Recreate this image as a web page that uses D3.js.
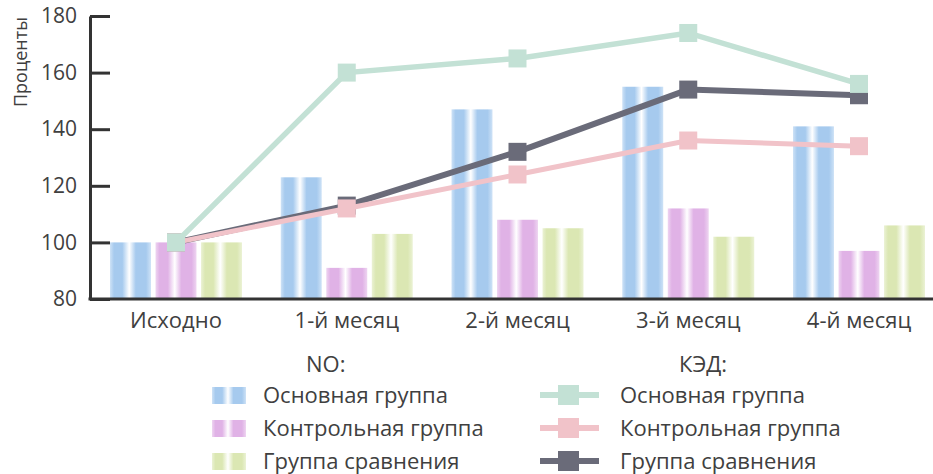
<!DOCTYPE html>
<html>
<head>
<meta charset="utf-8">
<script src="https://cdn.jsdelivr.net/npm/d3@7"></script>
<style>
  html, body { margin: 0; padding: 0; background: #fff; }
  svg { display: block; font-family: "Open Sans", "Noto Sans", sans-serif; }
</style>
</head>
<body>
<div id="chart"></div>
<script>
// === DATA ===
const categories = ["Исходно", "1-й месяц", "2-й месяц", "3-й месяц", "4-й месяц"];
const groupNames = ["Основная группа", "Контрольная группа", "Группа сравнения"];

// NO (bars)
const noMain = [100, 123, 147, 155, 141];
const noControl = [100, 91, 108, 112, 97];
const noCompare = [100, 103, 105, 102, 106];

// КЭД (lines)
const kedMain = [100, 160, 165, 174, 156];
const kedControl = [100, 112, 124, 136, 134];
const kedCompare = [100, 113, 132, 154, 152];

const yTicks = [80, 100, 120, 140, 160, 180];

// === LAYOUT ===
const W = 933, H = 474;
const axisX = 90;
const plotTop = 16, plotBottom = 299;
const textColor = "#404040";
const axisColor = "#333";
const labelSize = "22px";

const barColors = ["#a6caee", "#e0b2e6", "#dbe7b3"];
const lineColors = ["#c3e1d5", "#f1c3c9", "#6a6b79"];

const svg = d3.select("#chart").append("svg")
  .attr("width", W)
  .attr("height", H);

const defs = svg.append("defs");
barColors.forEach((c, i) => {
  const light = d3.interpolateRgb(c, "#fff")(0.45);
  const grad = defs.append("linearGradient")
    .attr("id", "bar-grad-" + i)
    .attr("x1", "0%").attr("x2", "100%")
    .attr("y1", "0%").attr("y2", "0%");
  [
    [0, light], [0.1, c], [0.3, c], [0.47, "#fff"],
    [0.63, c], [0.88, c], [1, light]
  ].forEach(([o, col]) => grad.append("stop").attr("offset", o).attr("stop-color", col));
});

// === SCALES ===
const step = 170.75;
const firstCenter = 176;
const x = d3.scaleBand()
  .domain(categories)
  .range([firstCenter - step / 2, firstCenter - step / 2 + step * categories.length])
  .paddingInner(0.227)
  .paddingOuter(0.1135);

const xInner = d3.scaleBand()
  .domain(d3.range(groupNames.length))
  .range([0, x.bandwidth()])
  .paddingInner(0.1);

const y = d3.scaleLinear().domain([80, 180]).range([plotBottom, plotTop]);

// === BARS ===
const barSeries = [noMain, noControl, noCompare];
const barData = [];
categories.forEach((cat, ci) => {
  barSeries.forEach((vals, si) => barData.push({ cat, si, v: vals[ci] }));
});

svg.append("g").selectAll("rect")
  .data(barData)
  .join("rect")
  .attr("x", d => x(d.cat) + xInner(d.si))
  .attr("width", xInner.bandwidth())
  .attr("y", d => y(d.v))
  .attr("height", d => y(80) - y(d.v))
  .attr("fill", d => `url(#bar-grad-${d.si})`);

// === LINES ===
// drawn dark first, teal last (teal sits on top)
const lineSeries = [kedCompare, kedControl, kedMain];
const lineColorOrder = [lineColors[2], lineColors[1], lineColors[0]];
const lineWidths = [6, 5, 5.5];
const cx = c => x(c) + x.bandwidth() / 2;
const line = d3.line()
  .x((d, i) => cx(categories[i]))
  .y(d => y(d));

const markerSize = 18;
lineSeries.forEach((vals, k) => {
  const g = svg.append("g");
  g.append("path")
    .datum(vals)
    .attr("fill", "none")
    .attr("stroke", lineColorOrder[k])
    .attr("stroke-width", lineWidths[k])
    .attr("d", line);
  g.selectAll("rect")
    .data(vals)
    .join("rect")
    .attr("x", (d, i) => cx(categories[i]) - markerSize / 2)
    .attr("y", d => y(d) - markerSize / 2)
    .attr("width", markerSize)
    .attr("height", markerSize)
    .attr("fill", lineColorOrder[k]);
});

// === AXES ===
const yAxis = svg.append("g")
  .attr("transform", `translate(${axisX},0)`)
  .call(d3.axisLeft(y).tickValues(yTicks).tickSizeInner(-20).tickSizeOuter(0).tickPadding(13));
yAxis.select(".domain").attr("stroke", axisColor).attr("stroke-width", 3);
yAxis.selectAll(".tick line").attr("stroke", axisColor).attr("stroke-width", 3);
yAxis.selectAll(".tick text")
  .attr("fill", textColor)
  .style("font-size", "21px")
  .style("font-family", "'Open Sans', sans-serif");

const xAxis = svg.append("g")
  .attr("transform", `translate(0,${plotBottom})`)
  .call(d3.axisBottom(x).tickSize(0).tickPadding(13));
xAxis.select(".domain").remove();
xAxis.selectAll(".tick text")
  .attr("fill", textColor)
  .style("font-size", labelSize)
  .style("font-family", "'Open Sans', sans-serif");

svg.append("line")
  .attr("x1", axisX - 1.5).attr("x2", W)
  .attr("y1", plotBottom).attr("y2", plotBottom)
  .attr("stroke", axisColor)
  .attr("stroke-width", 3);

svg.append("text")
  .attr("transform", `translate(27,62) rotate(-90)`)
  .attr("text-anchor", "middle")
  .attr("fill", textColor)
  .style("font-size", "18px")
  .text("Проценты");

// === LEGEND ===
const rowY = [395, 428, 461];
const legNo = svg.append("g");
legNo.append("text")
  .attr("x", 306).attr("y", 364)
  .attr("dy", "0.35em")
  .attr("fill", textColor)
  .style("font-size", labelSize)
  .text("NO:");
groupNames.forEach((name, i) => {
  legNo.append("rect")
    .attr("x", 212).attr("y", rowY[i] - 8)
    .attr("width", 34).attr("height", 17)
    .attr("fill", `url(#bar-grad-${i})`);
  legNo.append("text")
    .attr("x", 263).attr("y", rowY[i])
    .attr("dy", "0.35em")
    .attr("fill", textColor)
    .style("font-size", labelSize)
    .text(name);
});

const legKed = svg.append("g");
legKed.append("text")
  .attr("x", 679).attr("y", 364)
  .attr("dy", "0.35em")
  .attr("fill", textColor)
  .style("font-size", labelSize)
  .text("КЭД:");
groupNames.forEach((name, i) => {
  legKed.append("line")
    .attr("x1", 540).attr("x2", 599)
    .attr("y1", rowY[i]).attr("y2", rowY[i])
    .attr("stroke", lineColors[i])
    .attr("stroke-width", 6);
  legKed.append("rect")
    .attr("x", 558).attr("y", rowY[i] - 10)
    .attr("width", 21).attr("height", 20)
    .attr("fill", lineColors[i]);
  legKed.append("text")
    .attr("x", 620).attr("y", rowY[i])
    .attr("dy", "0.35em")
    .attr("fill", textColor)
    .style("font-size", labelSize)
    .text(name);
});
</script>
</body>
</html>
